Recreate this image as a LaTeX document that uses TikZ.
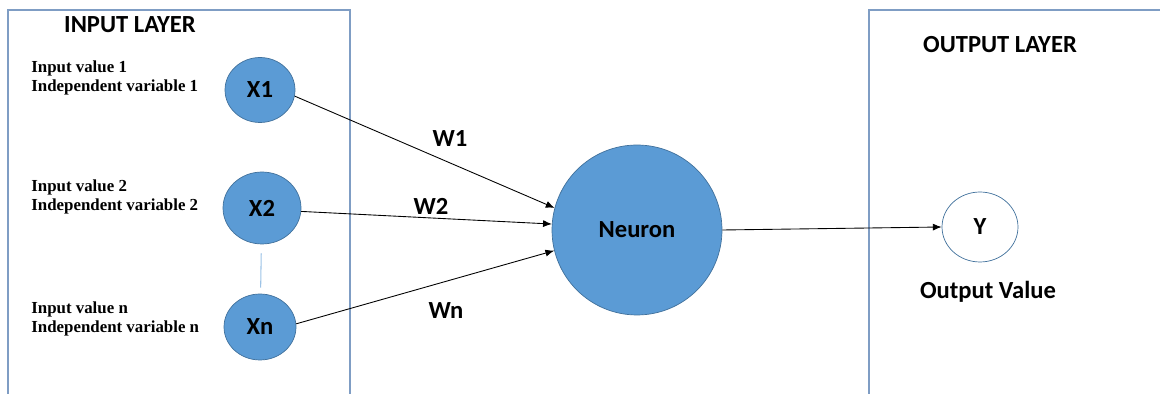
\documentclass[tikz,border=0pt]{standalone}
\usepackage{fontspec}
\setmainfont{Carlito}
\newfontfamily\captionfont{Liberation Serif}
\usetikzlibrary{arrows.meta}
\usetikzlibrary{shapes.geometric}
\definecolor{unitfill}{HTML}{5B9BD5}
\definecolor{unitline}{HTML}{41719C}
\definecolor{framecol}{HTML}{7F9DC4}
\definecolor{linkcol}{HTML}{9DC3E6}
\tikzset{
  unit/.style={ellipse, draw=unitline, fill=unitfill, inner sep=0pt, font=\fontsize{14}{16}\selectfont\bfseries},
  outunit/.style={ellipse, draw=unitline, fill=white, inner sep=0pt, font=\fontsize{14}{16}\selectfont\bfseries},
  frame/.style={draw=framecol, line width=0.6pt},
  heading/.style={font=\fontsize{14}{16}\selectfont\bfseries},
  caption/.style={anchor=west, align=left, inner sep=0pt, font=\fontsize{9.6}{10.6}\selectfont\captionfont\bfseries},
  wire/.style={-{Latex[length=5pt, width=4pt]}, line width=0.5pt},
}
\begin{document}
\begin{tikzpicture}[x=0.02cm, y=-0.02cm]
    \useasboundingbox (0,0) rectangle (1160,394);

    % layer frames
    \draw[frame] (8,394) -- (8,10) -- (350,10) -- (350,394);
    \draw[frame] (869,394) -- (869,10) -- (1160,10);

    \node[heading] (inlayer) at (130,25) {INPUT LAYER};
    \node[heading] (outlayer) at (1000,45) {OUTPUT LAYER};

    % inputs
    \node[unit, minimum width=1.4cm, minimum height=1.3cm] (x1) at (260,90) {X1};
    \node[unit, minimum width=1.56cm, minimum height=1.44cm] (x2) at (262,208) {X2};
    \node[unit, minimum width=1.44cm, minimum height=1.32cm] (xn) at (260,327) {Xn};
    \node[caption] (in1) at (31,78) {Input value 1\\Independent variable 1};
    \node[caption] (in2) at (31,197) {Input value 2\\Independent variable 2};
    \node[caption] (inn) at (31,319) {Input value n\\Independent variable n};

    \node[unit, minimum size=3.4cm] (neuron) at (637,230) {Neuron};
    \node[outunit, minimum width=1.52cm, minimum height=1.4cm] (y) at (980,227) {Y};
    \node[heading] (outval) at (988,292) {Output Value};

    \node[heading] (w1) at (450,139) {W1};
    \node[heading] (w2) at (431,206) {W2};
    \node[heading] (wn) at (446,311) {Wn};

    \draw[linkcol, line width=0.6pt, shorten <=0.18cm, shorten >=0.12cm] (x2) -- (xn);
    \draw[wire] (x1.-10) -- (neuron.165);
    \draw[wire] (x2.-5) -- (neuron.176);
    \draw[wire] (xn.5) -- (neuron.194);
    \draw[wire] (neuron.east) -- (y.west);
\end{tikzpicture}
\end{document}
